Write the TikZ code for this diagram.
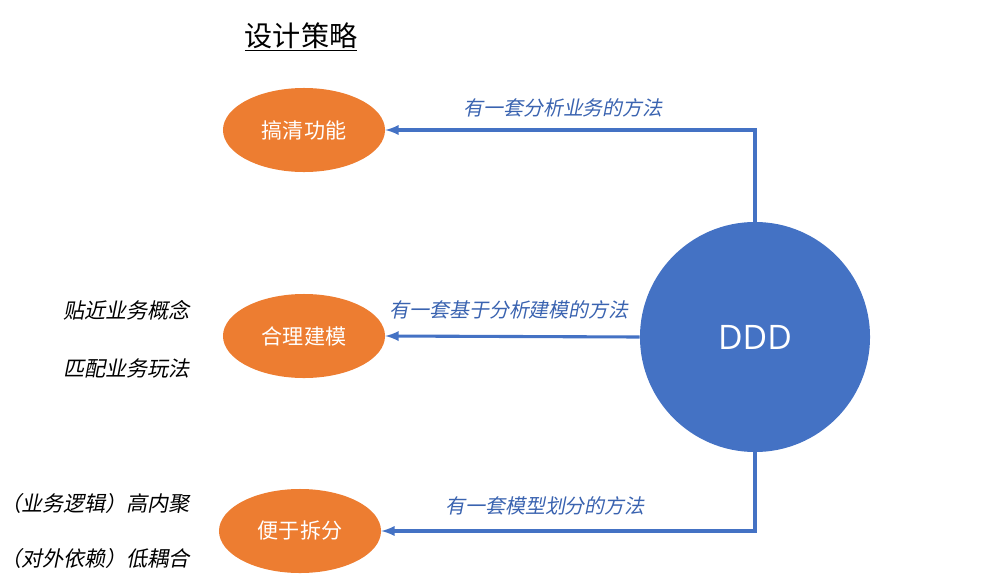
\documentclass[tikz,border=0pt]{standalone}
\usepackage{fontspec}
\setmainfont{Noto Sans CJK SC}
\newfontfamily\cjkslant[FakeSlant=0.2]{Noto Sans CJK SC}
\newfontfamily\latinsans{Open Sans}
\usetikzlibrary{shapes,arrows}
\definecolor{ddorange}{HTML}{ED7D31}
\definecolor{ddblue}{HTML}{4472C4}
\definecolor{ddlabel}{HTML}{3A63B0}

\begin{document}
\begin{tikzpicture}[x=0.025cm,y=-0.025cm]
\tikzstyle{goal}=[ellipse, fill=ddorange, text=white, minimum width=4.05cm, minimum height=2.1cm, inner sep=0pt, font=\fontsize{15}{18}\selectfont]
\tikzstyle{method}=[text=ddlabel, font=\cjkslant\fontsize{14.2}{17}\selectfont]
\tikzstyle{note}=[anchor=east, font=\cjkslant\fontsize{15}{18}\selectfont]
\tikzstyle{link}=[draw=ddblue, line width=2.2pt, -latex]
\useasboundingbox (0,0) rectangle (1000,586);
% title
\node (title) at (301,37) {\fontsize{20}{24}\selectfont\underline{设计策略}};
% the three goals
\node [goal] (clarify) at (304,130) {搞清功能};
\node [goal] (model) at (304,336) {合理建模};
\node [goal] (split) at (300,531) {便于拆分};
% DDD
\node [circle, fill=ddblue, text=white, minimum size=5.75cm, inner sep=0pt, font=\latinsans\fontsize{24}{28}\selectfont] (ddd) at (755,337) {DDD};
% connectors
\draw [link] (ddd.north) |- (clarify.east);
\draw [link] (ddd.west) -- (model.east);
\draw [link] (ddd.south) |- (split.east);
% method labels
\node [method] (m1) at (563,108) {有一套分析业务的方法};
\node [method] (m2) at (509,310) {有一套基于分析建模的方法};
\node [method] (m3) at (545,506) {有一套模型划分的方法};
% notes on the left
\node [note] (n1) at (195,310) {贴近业务概念};
\node [note] (n2) at (195,368) {匹配业务玩法};
\node [note] (n3) at (195,503) {（业务逻辑）高内聚};
\node [note] (n4) at (195,558) {（对外依赖）低耦合};
\end{tikzpicture}
\end{document}
